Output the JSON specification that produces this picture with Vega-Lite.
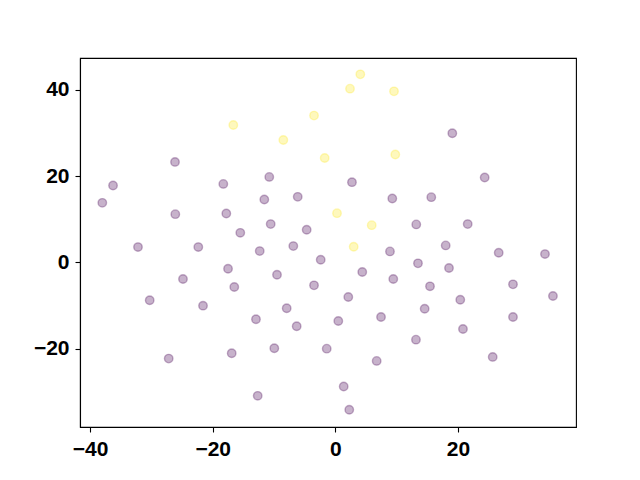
{
  "$schema": "https://vega.github.io/schema/vega-lite/v6.json",
  "width": 496,
  "height": 369,
  "autosize": "none",
  "padding": {"left": 80, "top": 58, "right": 64, "bottom": 53},
  "background": "white",
  "config": {
    "view": {"stroke": "black", "strokeWidth": 1.1},
    "axis": {
      "grid": false,
      "domainColor": "black",
      "domainWidth": 1.1,
      "tickColor": "black",
      "tickWidth": 1.1,
      "tickSize": 5,
      "labelFont": "Liberation Sans",
      "labelFontWeight": "bold",
      "labelFontSize": 21,
      "labelColor": "black",
      "labelPadding": 6,
      "labelExpr": "replace(datum.label, /[-\u2212]/, '\u2212')",
      "title": null
    }
  },
  "data": {
    "values": [
      {"x": -26.15, "y": 23.26, "c": 0},
      {"x": -36.26, "y": 17.80, "c": 0},
      {"x": -38.01, "y": 13.78, "c": 0},
      {"x": -18.27, "y": 18.17, "c": 0},
      {"x": -10.77, "y": 19.79, "c": 0},
      {"x": -11.58, "y": 14.57, "c": 0},
      {"x": -6.13, "y": 15.17, "c": 0},
      {"x": -26.10, "y": 11.17, "c": 0},
      {"x": -17.78, "y": 11.33, "c": 0},
      {"x": -10.54, "y": 8.86, "c": 0},
      {"x": -15.50, "y": 6.84, "c": 0},
      {"x": -4.67, "y": 7.54, "c": 0},
      {"x": 19.09, "y": 29.90, "c": 0},
      {"x": 2.72, "y": 18.57, "c": 0},
      {"x": 24.37, "y": 19.65, "c": 0},
      {"x": 9.30, "y": 14.80, "c": 0},
      {"x": 15.66, "y": 15.10, "c": 0},
      {"x": 13.21, "y": 8.79, "c": 0},
      {"x": 21.60, "y": 8.86, "c": 0},
      {"x": -32.19, "y": 3.54, "c": 0},
      {"x": -22.35, "y": 3.54, "c": 0},
      {"x": -12.33, "y": 2.61, "c": 0},
      {"x": -6.85, "y": 3.77, "c": 0},
      {"x": -2.38, "y": 0.60, "c": 0},
      {"x": -17.50, "y": -1.48, "c": 0},
      {"x": -24.85, "y": -3.86, "c": 0},
      {"x": -9.51, "y": -2.87, "c": 0},
      {"x": -16.48, "y": -5.71, "c": 0},
      {"x": -3.47, "y": -5.32, "c": 0},
      {"x": -30.28, "y": -8.79, "c": 0},
      {"x": -21.58, "y": -10.03, "c": 0},
      {"x": -7.93, "y": -10.64, "c": 0},
      {"x": -12.94, "y": -13.18, "c": 0},
      {"x": -6.30, "y": -14.80, "c": 0},
      {"x": -9.95, "y": -19.88, "c": 0},
      {"x": -16.90, "y": -21.04, "c": 0},
      {"x": -27.18, "y": -22.29, "c": 0},
      {"x": -1.40, "y": -19.98, "c": 0},
      {"x": -12.66, "y": -30.91, "c": 0},
      {"x": 8.92, "y": 2.54, "c": 0},
      {"x": 18.01, "y": 3.93, "c": 0},
      {"x": 26.66, "y": 2.22, "c": 0},
      {"x": 34.21, "y": 1.92, "c": 0},
      {"x": 13.49, "y": -0.23, "c": 0},
      {"x": 18.55, "y": -1.32, "c": 0},
      {"x": 4.40, "y": -2.24, "c": 0},
      {"x": 9.46, "y": -3.86, "c": 0},
      {"x": 15.45, "y": -5.55, "c": 0},
      {"x": 28.99, "y": -5.09, "c": 0},
      {"x": 2.12, "y": -8.02, "c": 0},
      {"x": 20.39, "y": -8.65, "c": 0},
      {"x": 35.51, "y": -7.79, "c": 0},
      {"x": 14.58, "y": -10.73, "c": 0},
      {"x": 0.49, "y": -13.57, "c": 0},
      {"x": 7.46, "y": -12.65, "c": 0},
      {"x": 28.99, "y": -12.65, "c": 0},
      {"x": 20.83, "y": -15.42, "c": 0},
      {"x": 13.16, "y": -17.90, "c": 0},
      {"x": 6.75, "y": -22.82, "c": 0},
      {"x": 25.68, "y": -21.90, "c": 0},
      {"x": 1.37, "y": -28.76, "c": 0},
      {"x": 2.28, "y": -34.15, "c": 0},
      {"x": -16.64, "y": 31.82, "c": 1},
      {"x": -8.48, "y": 28.35, "c": 1},
      {"x": -3.47, "y": 33.99, "c": 1},
      {"x": -1.73, "y": 24.18, "c": 1},
      {"x": 4.08, "y": 43.54, "c": 1},
      {"x": 2.40, "y": 40.23, "c": 1},
      {"x": 9.58, "y": 39.61, "c": 1},
      {"x": 9.79, "y": 24.97, "c": 1},
      {"x": 0.28, "y": 11.40, "c": 1},
      {"x": 5.94, "y": 8.62, "c": 1},
      {"x": 3.00, "y": 3.61, "c": 1}
    ]
  },
  "mark": {
    "type": "point",
    "shape": "circle",
    "filled": true,
    "size": 72,
    "fillOpacity": 0.3,
    "strokeOpacity": 0.3,
    "strokeWidth": 1.4
  },
  "encoding": {
    "x": {
      "field": "x",
      "type": "quantitative",
      "scale": {"domain": [-41.65, 39.27], "nice": false, "zero": false},
      "axis": {"values": [-40, -20, 0, 20]}
    },
    "y": {
      "field": "y",
      "type": "quantitative",
      "scale": {"domain": [-38.13, 47.33], "nice": false, "zero": false},
      "axis": {"values": [-20, 0, 20, 40]}
    },
    "fill": {
      "field": "c",
      "type": "nominal",
      "scale": {"domain": [0, 1], "range": ["#440154", "#fde725"]},
      "legend": null
    },
    "stroke": {
      "field": "c",
      "type": "nominal",
      "scale": {"domain": [0, 1], "range": ["#440154", "#fde725"]},
      "legend": null
    }
  }
}
